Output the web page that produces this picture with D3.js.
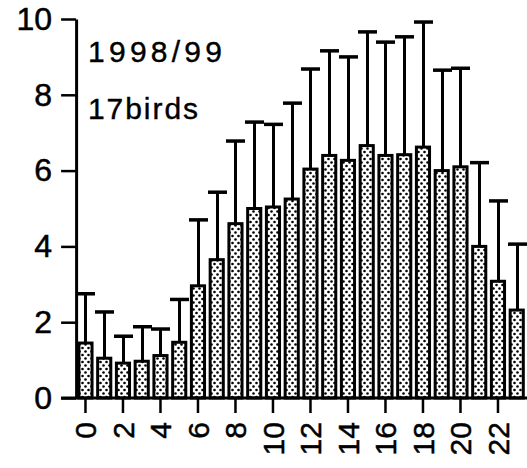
<!DOCTYPE html>
<html>
<head>
<meta charset="utf-8">
<script src="https://cdn.jsdelivr.net/npm/d3@7"></script>
<style>
  body { margin: 0; background: #fff; }
  svg { display: block; }
  text { font-family: "Liberation Sans", Arial, Helvetica, sans-serif; }
</style>
</head>
<body>
<div id="chart"></div>
<script>
// hour of day
const hours = [0, 1, 2, 3, 4, 5, 6, 7, 8, 9, 10, 11, 12, 13, 14, 15, 16, 17, 18, 19, 20, 21, 22, 23];
// mean per hour
const means = [1.45, 1.05, 0.92, 0.97, 1.12, 1.47, 2.96, 3.65, 4.6, 5.0, 5.04, 5.25, 6.04, 6.4, 6.27, 6.66, 6.4, 6.42, 6.62, 6.0, 6.1, 4.0, 3.08, 2.32];
// mean + SD (top of error bar)
const upper = [2.75, 2.27, 1.63, 1.88, 1.82, 2.6, 4.7, 5.43, 6.78, 7.28, 7.22, 7.78, 8.68, 9.16, 9.0, 9.66, 9.39, 9.53, 9.92, 8.65, 8.7, 6.21, 5.2, 4.06];
const yTicks = [0, 2, 4, 6, 8, 10];
const xTicks = [0, 2, 4, 6, 8, 10, 12, 14, 16, 18, 20, 22];
const labelLines = ["1998/99", "17birds"];

const width = 527, height = 468;

const svg = d3.select("#chart")
    .append("svg")
    .attr("width", width)
    .attr("height", height);

// dotted fill for bars
const pat = svg.append("defs").append("pattern")
    .attr("id", "dots")
    .attr("patternUnits", "userSpaceOnUse")
    .attr("width", 6)
    .attr("height", 7);
pat.append("rect").attr("width", 6).attr("height", 7).attr("fill", "#fff");
pat.append("circle").attr("cx", 1.5).attr("cy", 1.5).attr("r", 1.3).attr("fill", "#000");
pat.append("circle").attr("cx", 4.5).attr("cy", 5).attr("r", 1.3).attr("fill", "#000");

const xScale = d3.scaleBand()
    .domain(hours)
    .range([76.1, 526.1])
    .paddingInner(0.3)
    .paddingOuter(0.15);

const yScale = d3.scaleLinear()
    .domain([0, 10])
    .range([398, 19]);

const data = hours.map((h, i) => ({ hour: h, mean: means[i], upper: upper[i] }));
const cx = d => Math.round(xScale(d.hour) + xScale.bandwidth() / 2) + 0.5;

// error bars
svg.selectAll("line.err")
    .data(data)
    .enter()
    .append("line")
    .attr("class", "err")
    .attr("x1", cx)
    .attr("x2", cx)
    .attr("y1", d => yScale(d.mean))
    .attr("y2", d => yScale(d.upper))
    .attr("stroke", "#000")
    .attr("stroke-width", 3);

svg.selectAll("line.cap")
    .data(data)
    .enter()
    .append("line")
    .attr("class", "cap")
    .attr("x1", d => cx(d) - 9.5)
    .attr("x2", d => cx(d) + 9.5)
    .attr("y1", d => yScale(d.upper))
    .attr("y2", d => yScale(d.upper))
    .attr("stroke", "#000")
    .attr("stroke-width", 3.5);

// bars
svg.selectAll("rect.bar")
    .data(data)
    .enter()
    .append("rect")
    .attr("class", "bar")
    .attr("x", d => xScale(d.hour))
    .attr("y", d => yScale(d.mean))
    .attr("width", xScale.bandwidth())
    .attr("height", d => yScale(0) - yScale(d.mean))
    .attr("fill", "url(#dots)")
    .attr("stroke", "#000")
    .attr("stroke-width", 3);

// y axis
const yAxis = svg.append("g")
    .attr("transform", `translate(${xScale.range()[0]},0)`)
    .call(d3.axisLeft(yScale).tickValues(yTicks).tickSize(15).tickSizeOuter(0).tickPadding(9));
yAxis.select(".domain").attr("stroke-width", 3);
yAxis.selectAll(".tick line").attr("stroke-width", 2.5);
yAxis.selectAll(".tick text")
    .attr("font-size", 32)
    .attr("font-family", "Liberation Sans, Arial, sans-serif")
    .attr("fill", "#000")
    .attr("stroke", "#000")
    .attr("stroke-width", 0.5);

// x axis
const xAxis = svg.append("g")
    .attr("transform", `translate(0,${yScale(0)})`)
    .call(d3.axisBottom(xScale).tickValues(xTicks).tickSize(15).tickSizeOuter(0));
xAxis.select(".domain").remove();
xAxis.append("line")
    .attr("x1", xScale.range()[0] - 15)
    .attr("x2", width)
    .attr("stroke", "#000")
    .attr("stroke-width", 3);
xAxis.selectAll(".tick line").attr("stroke-width", 2.5);
xAxis.selectAll(".tick text")
    .attr("transform", "rotate(-90)")
    .attr("text-anchor", "end")
    .attr("x", -24)
    .attr("y", 0)
    .attr("dy", "0.36em")
    .attr("font-size", 30)
    .attr("font-family", "Liberation Sans, Arial, sans-serif")
    .attr("fill", "#000")
    .attr("stroke", "#000")
    .attr("stroke-width", 0.5);

// season / sample size label
svg.selectAll("text.note")
    .data(labelLines)
    .enter()
    .append("text")
    .attr("class", "note")
    .attr("x", 88)
    .attr("y", (d, i) => 62 + i * 57)
    .attr("font-size", 30)
    .attr("textLength", (d, i) => i === 0 ? 134 : 110)
    .attr("stroke", "#000")
    .attr("stroke-width", 0.4)
    .text(d => d);
</script>
</body>
</html>
